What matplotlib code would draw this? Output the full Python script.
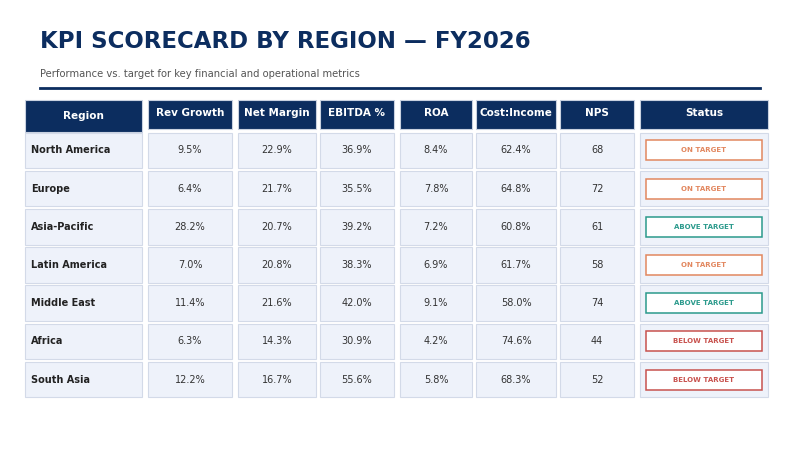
import matplotlib
matplotlib.use('agg')
import matplotlib.pyplot as plt
from matplotlib.patches import Rectangle

regions = ["North America", "Europe", "Asia-Pacific", "Latin America",
           "Middle East", "Africa", "South Asia"]
headers = ["Region", "Rev Growth", "Net Margin", "EBITDA %", "ROA",
           "Cost:Income", "NPS", "Status"]
rev_growth = ["9.5%", "6.4%", "28.2%", "7.0%", "11.4%", "6.3%", "12.2%"]
net_margin = ["22.9%", "21.7%", "20.7%", "20.8%", "21.6%", "14.3%", "16.7%"]
ebitda = ["36.9%", "35.5%", "39.2%", "38.3%", "42.0%", "30.9%", "55.6%"]
roa = ["8.4%", "7.8%", "7.2%", "6.9%", "9.1%", "4.2%", "5.8%"]
cost_income = ["62.4%", "64.8%", "60.8%", "61.7%", "58.0%", "74.6%", "68.3%"]
nps = ["68", "72", "61", "58", "74", "44", "52"]
status = ["ON TARGET", "ON TARGET", "ABOVE TARGET", "ON TARGET",
          "ABOVE TARGET", "BELOW TARGET", "BELOW TARGET"]

status_colors = {"ON TARGET": "#e2875f", "ABOVE TARGET": "#2b9a8c",
                 "BELOW TARGET": "#c8524e"}
navy = "#0c2d5f"

# column x-extents in pixels
col_x = [(25, 142), (148, 232), (238, 316), (320, 394), (400, 472),
         (476, 556), (560, 634), (640, 768)]
row_h = 38.2
row_top0 = 131.5

fig = plt.figure(figsize=(8, 4.5), dpi=100)
ax = fig.add_axes([0, 0, 1, 1])
ax.set_xlim(0, 800)
ax.set_ylim(450, 0)
ax.axis('off')

ax.text(40, 41, "KPI SCORECARD BY REGION — FY2026", fontsize=16.5,
        fontweight='bold', color=navy, va='center', ha='left')
ax.text(40, 74, "Performance vs. target for key financial and operational metrics",
        fontsize=7.2, color="#555555", va='center', ha='left')
ax.plot([40, 760], [87.5, 87.5], color=navy, lw=2)

# header
for i, (x0, x1) in enumerate(col_x):
    y0 = 100
    h = 32 if i == 0 else 29
    ax.add_patch(Rectangle((x0, y0), x1 - x0, h, facecolor=navy,
                           edgecolor="#c9d1e0", lw=0.8))
    ax.text((x0 + x1) / 2, y0 + (16 if i == 0 else 13), headers[i],
            color="white", fontsize=7.5, fontweight='bold',
            ha='center', va='center')

cols = [regions, rev_growth, net_margin, ebitda, roa, cost_income, nps]
for r in range(len(regions)):
    y0 = row_top0 + r * row_h + 1
    h = row_h - 2.5
    yc = y0 + h / 2
    for i, (x0, x1) in enumerate(col_x):
        ax.add_patch(Rectangle((x0, y0), x1 - x0, h, facecolor="#eef2fa",
                               edgecolor="#d3dae8", lw=0.8))
        if i == 0:
            ax.text(x0 + 6, yc, regions[r], fontsize=7, fontweight='bold',
                    color="#222222", ha='left', va='center')
        elif i < 7:
            ax.text((x0 + x1) / 2, yc, cols[i][r], fontsize=7,
                    color="#333333", ha='center', va='center')
        else:
            c = status_colors[status[r]]
            ax.add_patch(Rectangle((x0 + 6, yc - 10), x1 - x0 - 12, 20,
                                   facecolor="white", edgecolor=c, lw=1.1))
            ax.text((x0 + x1) / 2, yc, status[r], fontsize=5,
                    fontweight='bold', color=c, ha='center', va='center')

fig.savefig("out.png", dpi=100, facecolor='w')
plt.close(fig)
